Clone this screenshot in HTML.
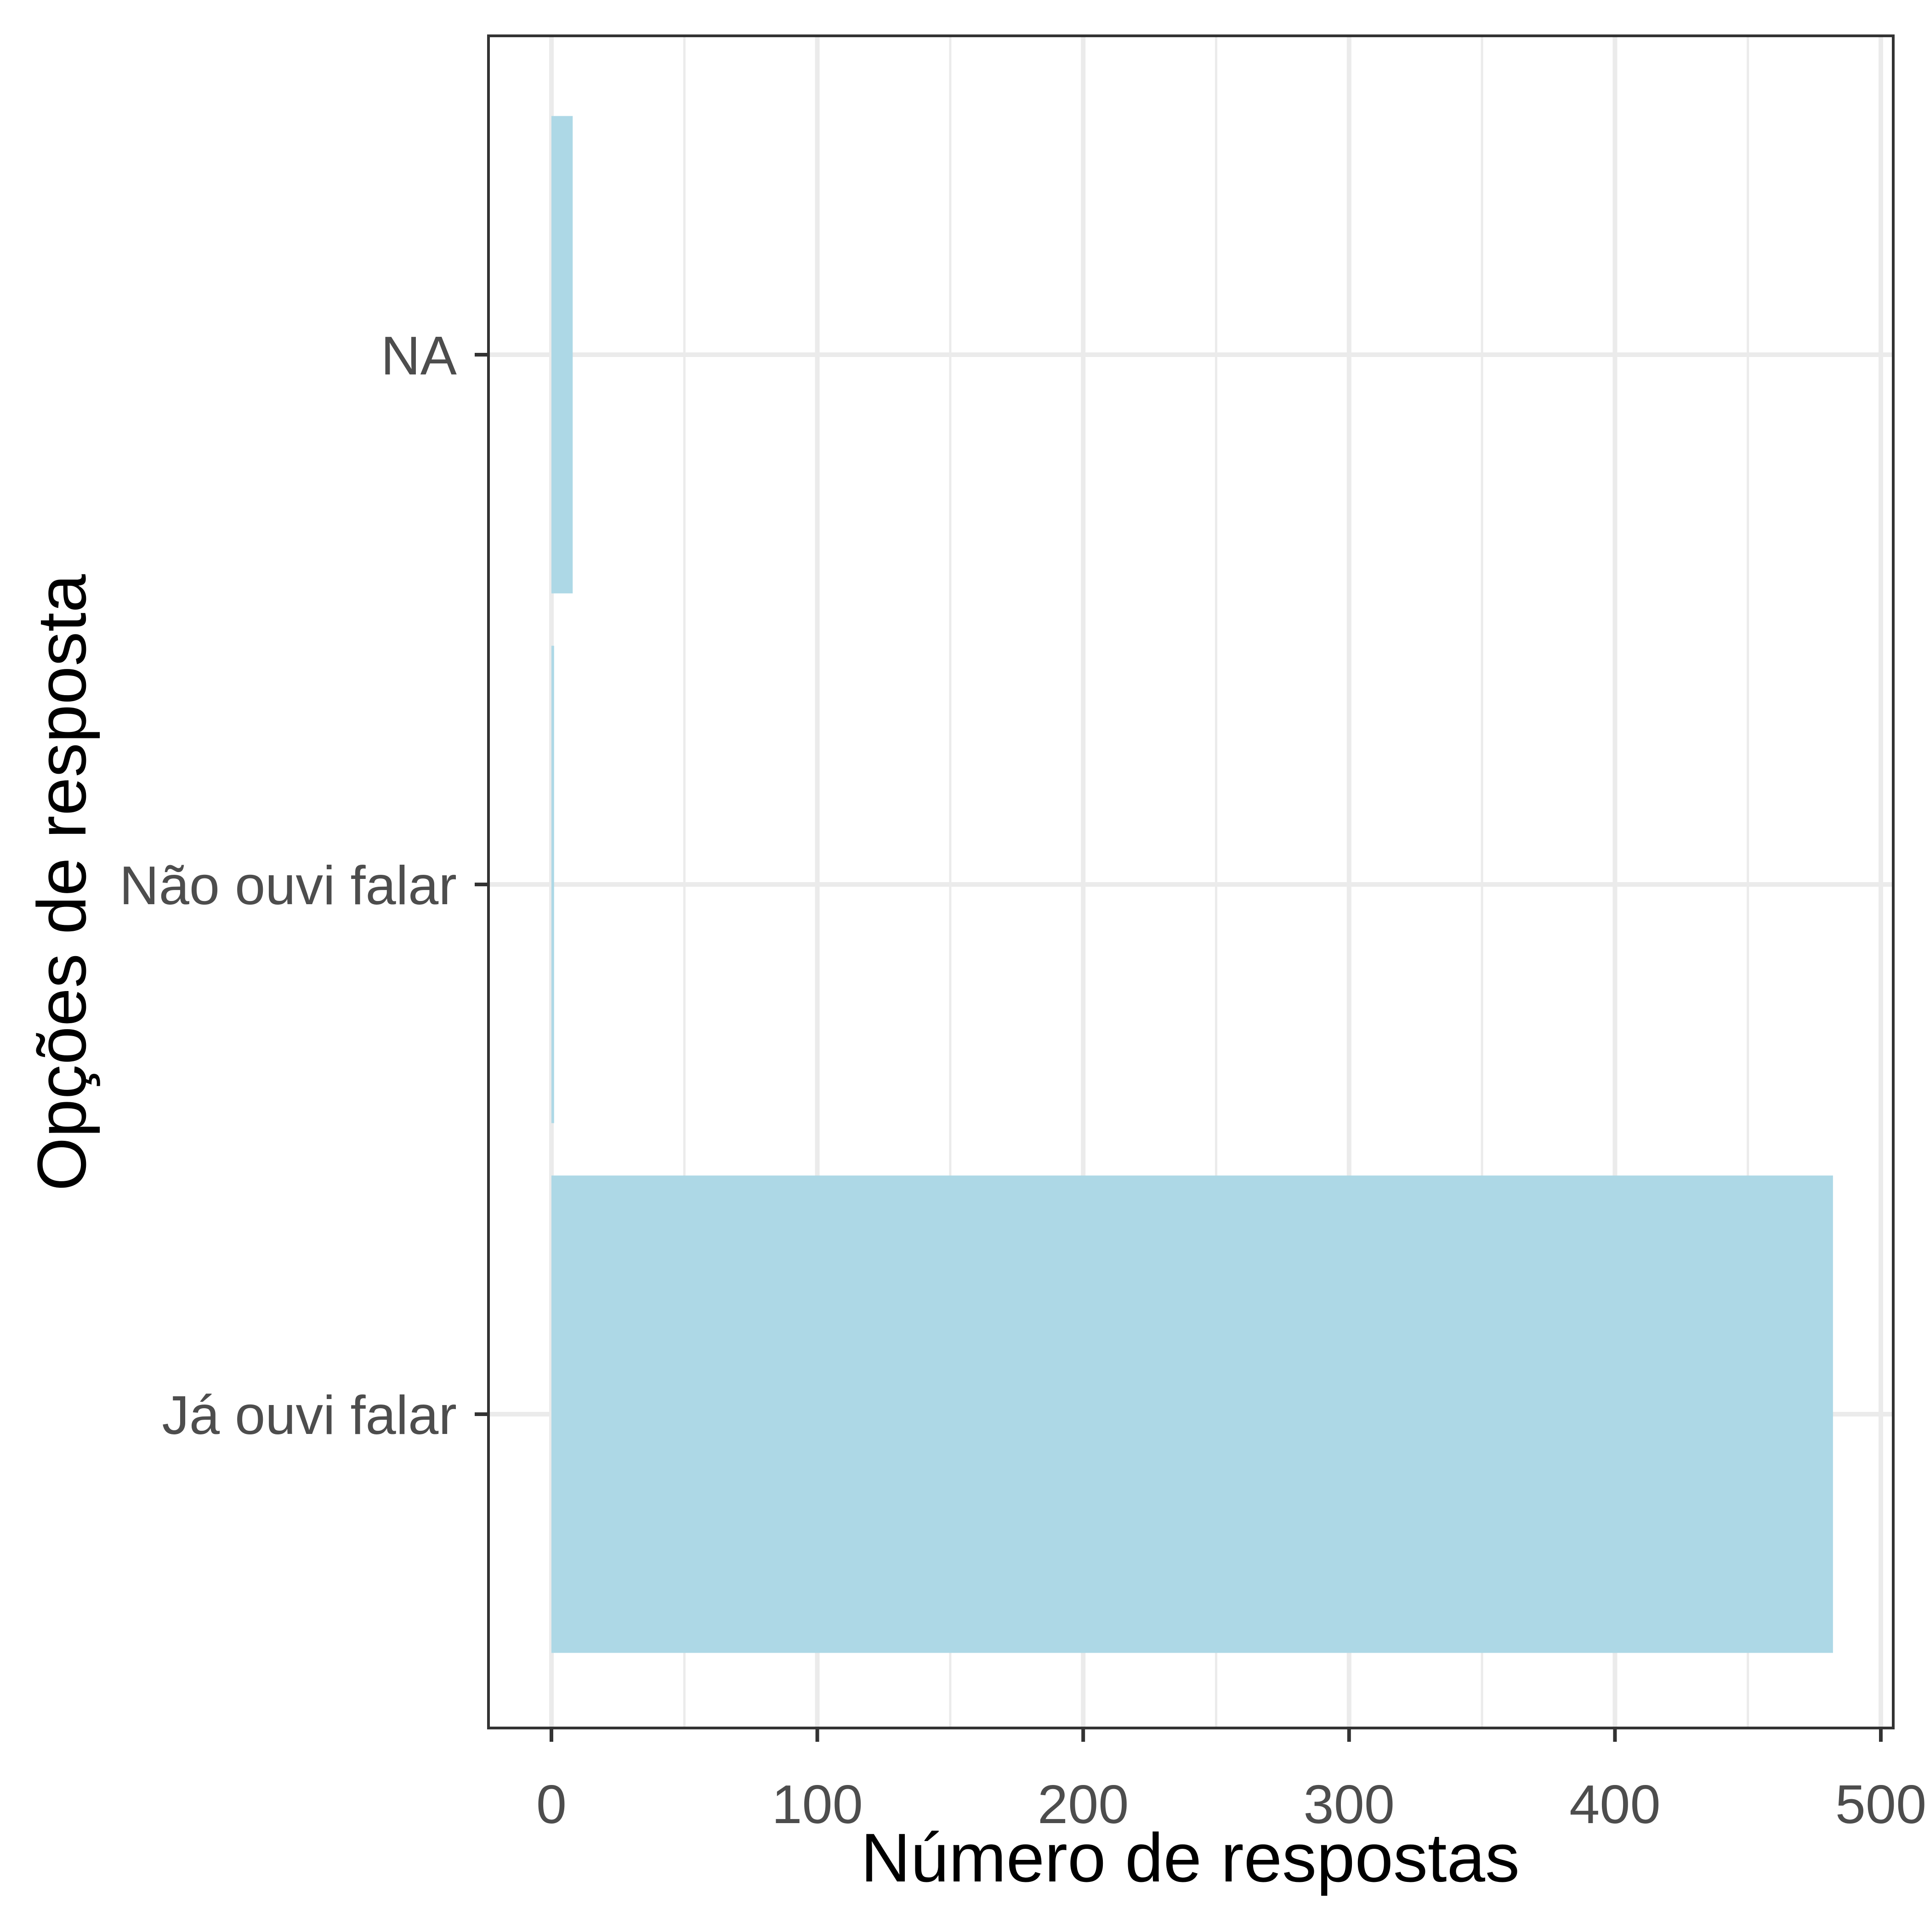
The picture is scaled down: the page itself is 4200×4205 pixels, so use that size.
<!DOCTYPE html>
<html><head><meta charset="utf-8"><style>html,body{margin:0;padding:0;background:#fff}</style></head>
<body>
<svg id="chart" width="4200" height="4200" viewBox="0 0 4200 4200" xmlns="http://www.w3.org/2000/svg" font-family="Liberation Sans, Arial, sans-serif">
<rect width="4200" height="4200" fill="#fff"/>
<g id="grid"></g>
<g id="bars"></g>
<rect x="1063" y="78" width="3057" height="3683" fill="none" stroke="#333" stroke-width="6"/>
<g id="axes"></g>
<text x="2590" y="4095" font-size="150" text-anchor="middle" fill="#000">Número de respostas</text>
<text transform="translate(186,1921) rotate(-90)" font-size="150" text-anchor="middle" fill="#000">Opções de resposta</text>
</svg>
<script>
const categories = ["Já ouvi falar", "Não ouvi falar", "NA"];
const counts = [482, 1, 8];
const xTicks = [0, 100, 200, 300, 400, 500];
const xMinor = [50, 150, 250, 350, 450];

const NS = "http://www.w3.org/2000/svg";
const x0 = 1200, xPer = 578.6/100;
const X = v => x0 + v * xPer;
const yBottom = 3078, yStep = 1153;
const Y = i => yBottom - i * yStep;
const barH = 1039;
const panelL = 1063, panelR = 4120, panelT = 78, panelB = 3761;

function mk(tag, attrs, parent) {
  const e = document.createElementNS(NS, tag);
  for (const k in attrs) e.setAttribute(k, attrs[k]);
  parent.appendChild(e);
  return e;
}
const grid = document.getElementById('grid');
const bars = document.getElementById('bars');
const axes = document.getElementById('axes');

xMinor.forEach(v => {
  const l = mk('line', {x1: X(v), x2: X(v), y1: panelT, y2: panelB, stroke: '#EBEBEB', 'stroke-width': 5}, grid);
  
  
});
xTicks.forEach(v => {
  const l = mk('line', {x1: X(v), x2: X(v), y1: panelT, y2: panelB, stroke: '#EBEBEB', 'stroke-width': 10}, grid);
  
  
  const t = mk('line', {x1: X(v), x2: X(v), y1: panelB, y2: panelB + 30, stroke: '#333', 'stroke-width': 8}, axes);
  
  
  const tx = mk('text', {x: X(v), y: 3968, 'font-size': 119, 'text-anchor': 'middle', fill: '#4D4D4D'}, axes);
  tx.textContent = v;
  
  
});
categories.forEach((c, i) => {
  const l = mk('line', {x1: panelL, x2: panelR, y1: Y(i), y2: Y(i), stroke: '#EBEBEB', 'stroke-width': 10}, grid);
  
  
  const b = mk('rect', {x: X(0), y: Y(i) - barH/2, width: Math.max(0, X(counts[i]) - X(0)), height: barH, fill: '#ADD8E6'}, bars);
  
  
  const t = mk('line', {x1: panelL - 30, x2: panelL, y1: Y(i), y2: Y(i), stroke: '#333', 'stroke-width': 8}, axes);
  
  
  const tx = mk('text', {x: 994, y: Y(i) + 43, 'font-size': 119, 'text-anchor': 'end', fill: '#4D4D4D'}, axes);
  tx.textContent = c;
  
  
});
</script>
</body></html>
